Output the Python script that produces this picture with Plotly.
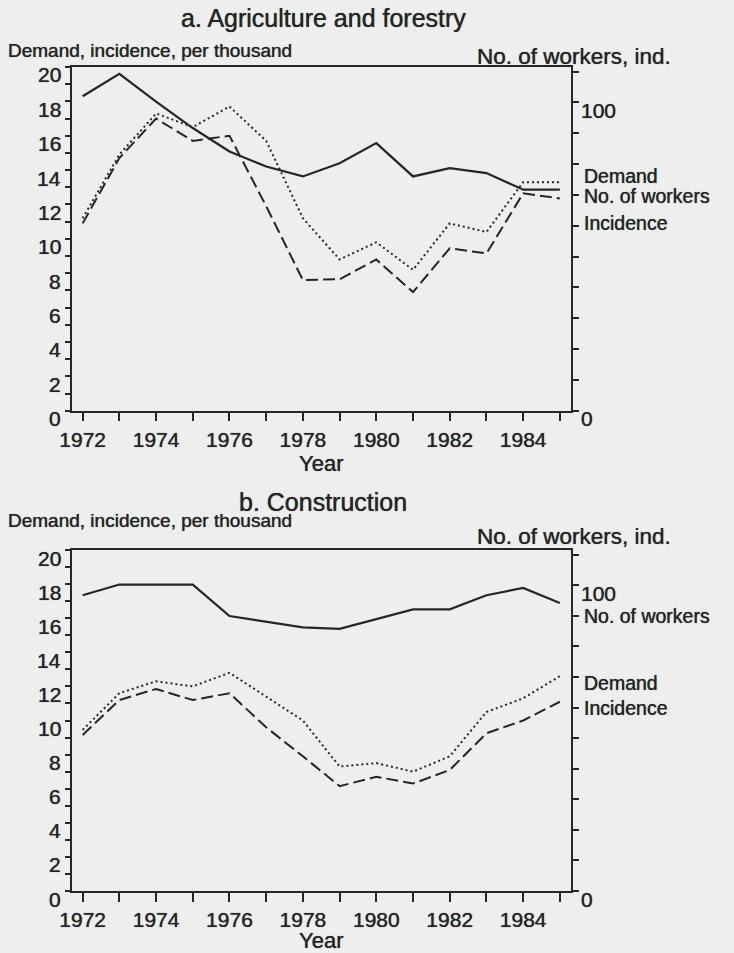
import plotly.graph_objects as go

# data
years = [1972, 1973, 1974, 1975, 1976, 1977, 1978, 1979, 1980, 1981, 1982, 1983, 1984, 1985]

# a. Agriculture and forestry
agri_workers = [102.0, 109.3, 100.3, 91.7, 84.1, 79.2, 76.0, 80.3, 86.8, 76.0, 78.7, 77.1, 71.7, 71.7]
agri_demand = [11.2, 14.9, 17.3, 16.5, 17.7, 15.7, 11.2, 8.8, 9.8, 8.2, 10.9, 10.4, 13.3, 13.3]
agri_incidence = [10.9, 14.7, 17.0, 15.7, 16.0, 11.9, 7.6, 7.65, 8.8, 6.9, 9.45, 9.15, 12.65, 12.35]

# b. Construction
cons_workers = [96.7, 100.2, 100.2, 100.2, 89.9, 88.0, 86.2, 85.7, 89.0, 92.1, 92.1, 96.7, 99.1, 94.2]
cons_demand = [9.45, 11.6, 12.3, 12.0, 12.8, 11.4, 10.0, 7.3, 7.5, 7.0, 7.9, 10.5, 11.3, 12.6]
cons_incidence = [9.15, 11.2, 11.85, 11.2, 11.6, 9.6, 7.9, 6.15, 6.7, 6.3, 7.1, 9.25, 10.0, 11.1]

year_ticktext = ["1972", "", "1974", "", "1976", "", "1978", "", "1980", "", "1982", "", "1984", ""]
left_tickvals = [0, 1, 2, 3, 4, 5, 6, 7, 8, 9, 10, 11, 12, 13, 14, 15, 16, 17, 18, 19, 20]
left_labels = [0, 2, 4, 6, 8, 10, 12, 14, 16, 18, 20]
right_tickvals = [0, 10, 20, 30, 40, 50, 60, 70, 80, 90, 100, 110]
right_labels = [0, 100]

panel_titles = ["a. Agriculture and forestry", "b. Construction"]
left_title = "Demand, incidence, per thousand"
right_title = "No. of workers, ind."
series_names = ["No. of workers", "Demand", "Incidence"]

ink = "#262626"
paper = "#eeeeee"
FONT = "Liberation Sans, Arial, Helvetica, sans-serif"
SHADOW = "0px 0px 0.8px #262626"   # fattens the type a little, like the printed scan
W, H = 734, 953


def px(x):
    return x / W


def py(y):
    return 1 - y / H


def font(size):
    return dict(family=FONT, size=size, color=ink, shadow=SHADOW)


fig = go.Figure()

panels = [
    ("x", "y", "y2", agri_workers, agri_demand, agri_incidence),
    ("x2", "y3", "y4", cons_workers, cons_demand, cons_incidence),
]
for xa, ya, yb, workers, demand, incidence in panels:
    fig.add_trace(go.Scatter(x=years, y=workers, xaxis=xa, yaxis=yb, mode="lines",
                             name=series_names[0], line=dict(color=ink, width=2.2)))
    fig.add_trace(go.Scatter(x=years, y=demand, xaxis=xa, yaxis=ya, mode="lines",
                             name=series_names[1], line=dict(color=ink, width=2, dash="2px,3px")))
    fig.add_trace(go.Scatter(x=years, y=incidence, xaxis=xa, yaxis=ya, mode="lines",
                             name=series_names[2], line=dict(color=ink, width=2, dash="12px,5px")))

xdom = [px(72), px(570.5)]


def xaxis(anchor):
    return dict(domain=xdom, anchor=anchor, range=[1971.71, 1985.29],
                tickmode="array", tickvals=years, ticktext=year_ticktext,
                ticks="outside", ticklen=9, tickwidth=1.5, tickcolor=ink,
                ticklabelstandoff=0,
                showline=True, linecolor=ink, linewidth=1.5, mirror=True,
                showgrid=False, zeroline=False, tickfont=font(21),
                title=dict(text="Year", font=font(22), standoff=0))


def yleft(dom, anchor):
    return dict(domain=dom, anchor=anchor, range=[0, 20],
                tickmode="array", tickvals=left_tickvals, showticklabels=False,
                ticks="outside", ticklen=5, tickwidth=1.5, tickcolor=ink,
                showline=True, linecolor=ink, linewidth=1.5,
                showgrid=False, zeroline=False)


def yright(overlay, anchor):
    return dict(overlaying=overlay, anchor=anchor, side="right", range=[0, 111.5],
                tickmode="array", tickvals=right_tickvals, showticklabels=False,
                ticks="outside", ticklen=7, tickwidth=1.5, tickcolor=ink,
                showline=True, linecolor=ink, linewidth=1.5,
                showgrid=False, zeroline=False)


annotations = []

# y tick labels sit a little below their ticks in the original
for yl, yr in [("y", "y2"), ("y3", "y4")]:
    for v in left_labels:
        annotations.append(dict(text=str(v), x=px(63), y=v, xref="paper", yref=yl,
                                xanchor="right", yanchor="middle", yshift=-8, showarrow=False,
                                font=font(21)))
    for v in right_labels:
        annotations.append(dict(text=str(v), x=px(579), y=v, xref="paper", yref=yr,
                                xanchor="left", yanchor="middle", yshift=-8, showarrow=False,
                                font=font(21)))

# panel title, axis unit labels, series labels
layout_text = [
    (panel_titles[0], 323, 18, "center", 25),
    (left_title, 6, 50, "left", 19),
    (right_title, 475, 56, "left", 22.5),
    (series_names[1], 582, 175.5, "left", 19.5),
    (series_names[0], 582, 196, "left", 19.5),
    (series_names[2], 582, 223.3, "left", 19.5),
    (panel_titles[1], 323, 501.7, "center", 25),
    (left_title, 6, 520, "left", 19),
    (right_title, 475, 536.7, "left", 22.5),
    (series_names[0], 582, 616, "left", 19.5),
    (series_names[1], 582, 682.7, "left", 19.5),
    (series_names[2], 582, 708.3, "left", 19.5),
]
for text, x, y, anchor, size in layout_text:
    annotations.append(dict(text=text, x=px(x), y=py(y), xref="paper", yref="paper",
                            xanchor=anchor, yanchor="middle", showarrow=False,
                            font=font(size)))

fig.update_layout(
    width=W, height=H,
    margin=dict(l=0, r=0, t=0, b=0, pad=0, autoexpand=False),
    paper_bgcolor=paper, plot_bgcolor=paper,
    showlegend=False,
    font=dict(family=FONT, color=ink),
    xaxis=xaxis("y"),
    yaxis=yleft([py(410.7), py(67)], "x"),
    yaxis2=yright("y", "x"),
    xaxis2=xaxis("y3"),
    yaxis3=yleft([py(891), py(550)], "x2"),
    yaxis4=yright("y3", "x2"),
    annotations=annotations,
)

fig.write_html("out.html", config={"displayModeBar": False},
               post_script="document.body.style.margin='0';"
                           "document.body.style.overflow='hidden';"
                           "document.body.style.background='#eeeeee';")
